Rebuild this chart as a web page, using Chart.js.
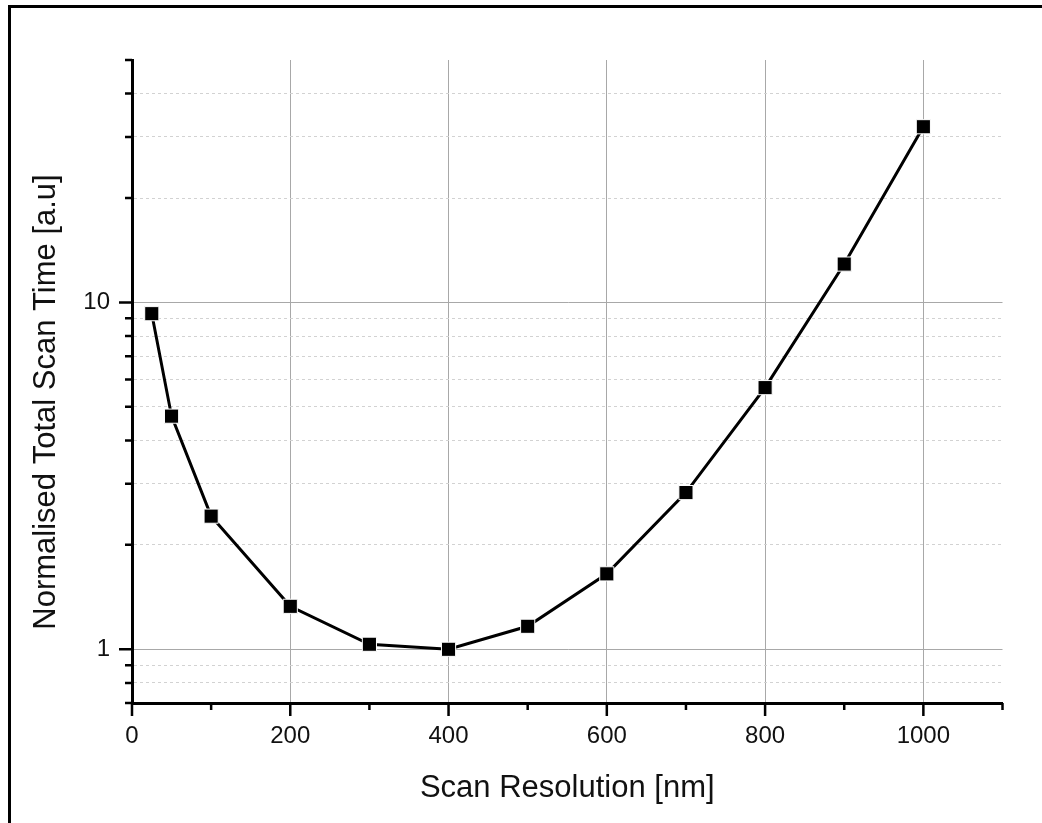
<!DOCTYPE html>
<html>
<head>
<meta charset="utf-8">
<script src="https://cdn.jsdelivr.net/npm/chart.js@4.4.1/dist/chart.umd.min.js"></script>
<style>
    html, body { margin: 0; padding: 0; background: #fff; }
    #wrap { position: relative; width: 1042px; height: 823px; }
    #frame {
        position: absolute; left: 8px; top: 5px; right: 0; bottom: 0;
        border-left: 3px solid #000; border-top: 3px solid #000;
        pointer-events: none;
    }
</style>
</head>
<body>
<div id="wrap">
    <canvas id="chart" width="1042" height="823"></canvas>
    <div id="frame"></div>
</div>
<script>
'use strict';

// scan resolution (nm) vs normalised total scan time
const resolution = [25, 50, 100, 200, 300, 400, 500, 600, 700, 800, 900, 1000];
const scanTime = [9.28, 4.70, 2.42, 1.33, 1.034, 1.0, 1.165, 1.65, 2.83, 5.68, 12.9, 32.1];

const xMajorTicks = [0, 200, 400, 600, 800, 1000];
const xMinorTicks = [100, 300, 500, 700, 900, 1100];
const yMajorTicks = [1, 10];
const yMinorTicks = [0.7, 0.8, 0.9, 2, 3, 4, 5, 6, 7, 8, 9, 20, 30, 40, 50];

const xTitle = 'Scan Resolution [nm]';
const yTitle = 'Normalised Total Scan Time [a.u]';

const FONT = '"Liberation Sans", Arial, sans-serif';
const TEXT = '#111';

// tick marks of two lengths + the rotated y title
const axisExtras = {
    id: 'axisExtras',
    afterDraw(chart) {
        const {ctx, chartArea: area, scales: {x, y}} = chart;
        ctx.save();
        ctx.strokeStyle = '#000';
        ctx.lineWidth = 2.5;
        ctx.beginPath();
        xMajorTicks.forEach((v) => {
            const px = x.getPixelForValue(v);
            ctx.moveTo(px, area.bottom);
            ctx.lineTo(px, area.bottom + 13);
        });
        xMinorTicks.forEach((v) => {
            const px = x.getPixelForValue(v);
            ctx.moveTo(px, area.bottom);
            ctx.lineTo(px, area.bottom + 7);
        });
        yMajorTicks.forEach((v) => {
            const py = y.getPixelForValue(v);
            ctx.moveTo(area.left, py);
            ctx.lineTo(area.left - 13, py);
        });
        yMinorTicks.forEach((v) => {
            const py = y.getPixelForValue(v);
            ctx.moveTo(area.left, py);
            ctx.lineTo(area.left - 7, py);
        });
        ctx.stroke();

        ctx.translate(46, 402);
        ctx.rotate(-Math.PI / 2);
        ctx.fillStyle = TEXT;
        ctx.font = '31px ' + FONT;
        ctx.textAlign = 'center';
        ctx.textBaseline = 'middle';
        ctx.fillText(yTitle, 0, 0);
        ctx.restore();
    }
};

new Chart(document.getElementById('chart'), {
    type: 'line',
    data: {
        datasets: [{
            data: resolution.map((r, i) => ({x: r, y: scanTime[i]})),
            borderColor: '#000',
            borderWidth: 3,
            pointStyle: 'rect',
            pointRadius: 10,
            pointHoverRadius: 10,
            pointBackgroundColor: '#000',
            pointBorderColor: '#fff',
            pointBorderWidth: 1,
            tension: 0
        }]
    },
    options: {
        responsive: false,
        animation: false,
        events: [],
        layout: {padding: {top: 60, right: 39.5, bottom: 0, left: 0}},
        plugins: {legend: {display: false}, tooltip: {enabled: false}},
        scales: {
            x: {
                type: 'linear',
                min: 0,
                max: 1100,
                afterFit: (scale) => { scale.height = 120; },
                ticks: {
                    stepSize: 100,
                    autoSkip: false,
                    maxRotation: 0,
                    padding: 19,
                    color: TEXT,
                    font: {family: FONT, size: 24},
                    callback: (v) => (xMajorTicks.includes(v) ? String(v) : '')
                },
                grid: {
                    drawTicks: false,
                    lineWidth: 1,
                    color: (c) => (c.tick && xMajorTicks.includes(c.tick.value) && c.tick.value > 0 ? '#a8a8a8' : 'rgba(0,0,0,0)')
                },
                border: {display: true, color: '#000', width: 3},
                title: {
                    display: true,
                    text: xTitle,
                    color: TEXT,
                    font: {family: FONT, size: 31},
                    padding: {top: 0, bottom: 16}
                }
            },
            y: {
                type: 'logarithmic',
                min: 0.7,
                max: 50,
                afterFit: (scale) => { scale.width = 132; },
                afterBuildTicks: (scale) => {
                    scale.ticks = yMajorTicks.concat(yMinorTicks)
                        .sort((a, b) => a - b)
                        .map((v) => ({value: v}));
                },
                ticks: {
                    autoSkip: false,
                    padding: 22,
                    color: TEXT,
                    font: {family: FONT, size: 24},
                    callback: (v) => (yMajorTicks.includes(v) ? String(v) : '')
                },
                grid: {
                    drawTicks: false,
                    lineWidth: 1,
                    color: (c) => {
                        if (!c.tick) return 'rgba(0,0,0,0)';
                        const v = c.tick.value;
                        if (yMajorTicks.includes(v)) return '#a8a8a8';
                        if (v === 0.7 || v === 50) return 'rgba(0,0,0,0)';
                        return '#d2d2d2';
                    }
                },
                border: {
                    display: true,
                    color: '#000',
                    width: 3,
                    dash: (c) => (c.tick && !yMajorTicks.includes(c.tick.value) ? [3, 3] : [])
                }
            }
        }
    },
    plugins: [axisExtras]
});
</script>
</body>
</html>
